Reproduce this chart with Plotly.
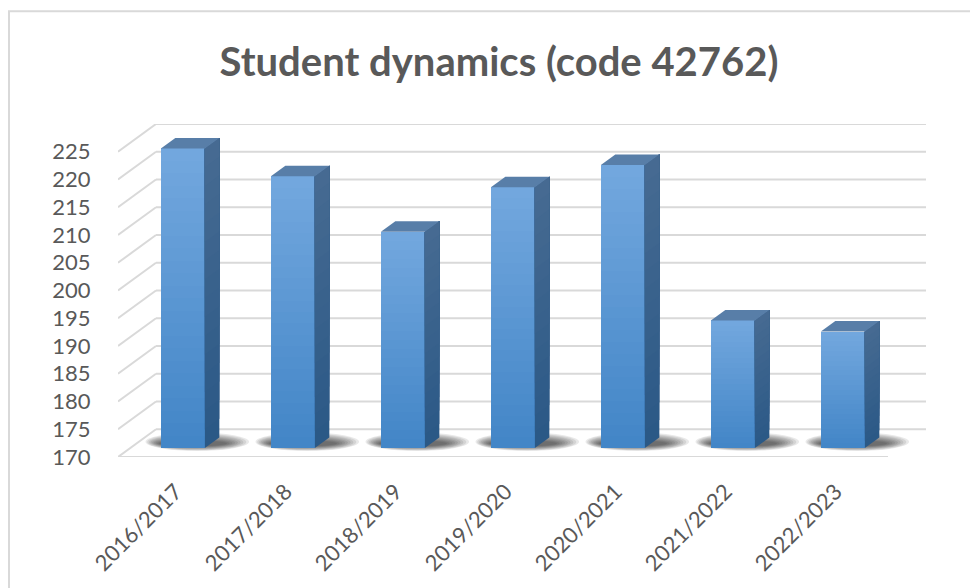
import plotly.graph_objects as go

# ---- data ----
years = ["2016/2017", "2017/2018", "2018/2019", "2019/2020", "2020/2021", "2021/2022", "2022/2023"]
students = [224, 219, 209, 217, 221, 193, 191]
y_ticks = [170, 175, 180, 185, 190, 195, 200, 205, 210, 215, 220, 225]
title_text = "Student dynamics (code 42762)"

# ---- geometry / style constants (pseudo-3D) ----
OFF = 8                      # page body margin
W, H = 970, 580
L, R, T, B = 118 - OFF, 52, 124 - OFF, 126
Y_MIN, Y_MAX = 170, 230
WALL_DX = 0.3455          # depth offset of back wall in x units
WALL_DY = 5.0             # depth offset of back wall in y units
D0, D1 = 0.32, 0.70       # bar front / back depth fractions
BAR_W = 0.40
BAR_XOFF = 0.09
LABEL_XOFF = 0.025
X_MAX = 6.5 + WALL_DX
GRID = "#d9d9d9"
TXT = "#595959"
N = 24

def lerp(c1, c2, t):
    a = [int(c1[i:i + 2], 16) for i in (1, 3, 5)]
    b = [int(c2[i:i + 2], 16) for i in (1, 3, 5)]
    return "rgb(%d,%d,%d)" % tuple(round(a[j] + (b[j] - a[j]) * t) for j in range(3))

FRONT_BOT, FRONT_TOP = "#4285c7", "#73a8de"
SIDE_BOT, SIDE_TOP = "#2a5886", "#476b92"
TOP_FACE = "#587ea8"

fig = go.Figure()
shapes = []

# back wall gridlines + left wall diagonals
for g in y_ticks:
    shapes.append(dict(type="line", xref="x", yref="y", x0=-0.5 + WALL_DX, x1=X_MAX,
                       y0=g + WALL_DY, y1=g + WALL_DY, line=dict(color=GRID, width=2), layer="below"))
    shapes.append(dict(type="line", xref="x", yref="y", x0=-0.5, x1=-0.5 + WALL_DX,
                       y0=g, y1=g + WALL_DY, line=dict(color=GRID, width=2), layer="below"))
# floor front edge
shapes.append(dict(type="line", xref="x", yref="y", x0=-0.5, x1=6.5, y0=Y_MIN, y1=Y_MIN,
                   line=dict(color=GRID, width=2), layer="below"))

sdx = (D1 - D0) * WALL_DX
sdy = (D1 - D0) * WALL_DY
centers = [i + BAR_XOFF for i in range(len(years))]
label_pos = [i + LABEL_XOFF for i in range(len(years))]
base0 = Y_MIN + D0 * WALL_DY

# soft shadows on floor
NSH = 9
for i, v in enumerate(students):
    c = centers[i]
    xl, xr = c - BAR_W / 2, c + BAR_W / 2
    for s in range(NSH):
        f = s / (NSH - 1)          # 0 = outermost, 1 = innermost
        ex0 = -0.14 + 0.12 * f
        ex1 = 0.27 - 0.20 * f
        ey0 = -0.5 + 0.8 * f
        ey1 = 2.8 - 1.4 * f
        shapes.append(dict(type="circle", xref="x", yref="y", x0=xl + ex0, x1=xr + sdx + ex1,
                           y0=base0 + ey0, y1=base0 + ey1, fillcolor="rgba(0,0,0,0.085)",
                           line=dict(width=0), layer="below"))

# front faces: stacked slices for a vertical gradient
for k in range(N):
    t = (k + 0.5) / N
    fig.add_trace(go.Bar(
        x=centers,
        y=[(v - Y_MIN) / N for v in students],
        base=[base0 + (v - Y_MIN) * k / N for v in students],
        width=BAR_W,
        marker=dict(color=lerp(FRONT_BOT, FRONT_TOP, t), line=dict(width=0)),
        hoverinfo="skip", showlegend=False,
    ))

# side & top faces (each side slice runs to the top, so no seams)
NS = 16
for i, v in enumerate(students):
    c = centers[i]
    xl, xr = c - BAR_W / 2, c + BAR_W / 2
    h = v - Y_MIN
    top = base0 + h
    for k in range(NS):
        y0 = base0 + h * k / NS
        col = lerp(SIDE_BOT, SIDE_TOP, (k + 0.5) / NS)
        path = "M %f,%f L %f,%f L %f,%f L %f,%f Z" % (xr, y0, xr + sdx, y0 + sdy, xr + sdx, top + sdy, xr, top)
        shapes.append(dict(type="path", xref="x", yref="y", path=path, fillcolor=col,
                           line=dict(width=0), layer="above"))
    path = "M %f,%f L %f,%f L %f,%f L %f,%f Z" % (xl, top, xr, top, xr + sdx, top + sdy, xl + sdx, top + sdy)
    shapes.append(dict(type="path", xref="x", yref="y", path=path, fillcolor=TOP_FACE,
                       line=dict(width=0), layer="above"))

# outer chart border (cropped at right/bottom)
pw, ph = W - L - R, H - T - B
def px(xp): return (xp - OFF - L) / pw
def py(yp): return (H - B - (yp - OFF)) / ph
shapes.append(dict(type="rect", xref="paper", yref="paper", x0=px(9), x1=px(1000),
                   y0=py(9.5), y1=py(620), line=dict(color="#d9d9d9", width=2), layer="below"))

fig.update_layout(
    width=W, height=H,
    margin=dict(l=L, r=R, t=T, b=B),
    paper_bgcolor="white", plot_bgcolor="rgba(0,0,0,0)",
    barmode="overlay", bargap=0,
    shapes=shapes,
    showlegend=False,
    title=dict(text="<b>%s</b>" % title_text, x=(499 - OFF) / W, xref="container", xanchor="center",
               y=1 - (62 - OFF) / H, yref="container", yanchor="middle",
               font=dict(family="Lato", size=40, color=TXT)),
    xaxis=dict(range=[-0.5, X_MAX], tickvals=label_pos, ticktext=years, tickangle=-45,
               showgrid=False, zeroline=False, showline=False,
               ticks="outside", ticklen=12, tickcolor="rgba(0,0,0,0)",
               tickfont=dict(family="Lato", size=22, color=TXT), fixedrange=True),
    yaxis=dict(range=[Y_MIN, Y_MAX], tickvals=y_ticks, ticktext=[str(v) for v in y_ticks],
               showgrid=False, zeroline=False, showline=False,
               ticks="outside", ticklen=22, tickcolor="rgba(0,0,0,0)",
               tickfont=dict(family="Lato", size=22, color=TXT), fixedrange=True),
)

fig.write_html("out.html")
